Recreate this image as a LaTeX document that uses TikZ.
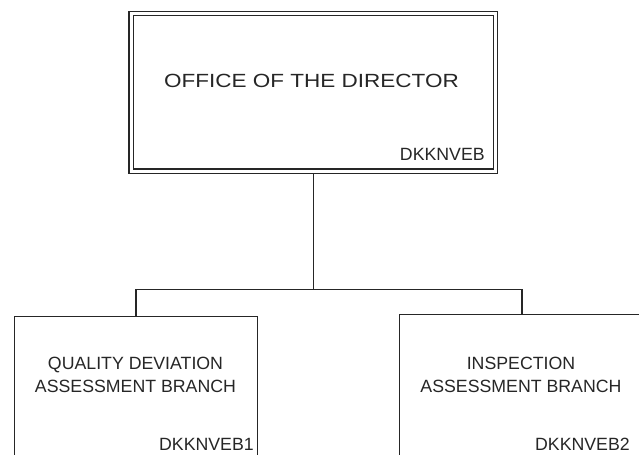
\documentclass[tikz,border=0pt]{standalone}
\usepackage{fontspec}
\setmainfont{Liberation Sans}
\begin{document}
\begin{tikzpicture}[x=0.75pt,y=-0.75pt,
  boxline/.style={draw=black!85, line width=0.8pt, fill=white},
  labeltext/.style={inner sep=0pt, text=black!85, font=\fontsize{13.3pt}{17pt}\selectfont},
  titletext/.style={inner sep=0pt, text=black!85, font=\fontsize{14.3pt}{17pt}\selectfont},
  link/.style={draw=black!85, line width=0.9pt}]
\useasboundingbox (0,0) rectangle (639,454);
\clip (0,0) rectangle (639,454);
% boxes
\node[boxline, double=white, double distance=2.25pt, outer sep=1.9pt,
      minimum width=364.5*0.75pt, minimum height=157.5*0.75pt, inner sep=0pt]
      (dir) at (313.25,92.25) {};
\node[boxline, minimum width=243*0.75pt, minimum height=160*0.75pt, inner sep=0pt, anchor=north west]
      (qda) at (14,316) {};
\node[boxline, minimum width=260*0.75pt, minimum height=160*0.75pt, inner sep=0pt, anchor=north west]
      (iab) at (399,314) {};
% texts
\node[titletext, anchor=base] (dirt) at (311.5,87.3) {\scalebox{1.18}[1]{OFFICE OF THE DIRECTOR}};
\node[labeltext, anchor=base east] (dirc) at (485,160) {DKKNVEB};
\node[labeltext, align=center, anchor=north] (qdat) at (135.5,357.3) {QUALITY DEVIATION\\ASSESSMENT BRANCH};
\node[labeltext, anchor=base east] (qdac) at (254,450.7) {DKKNVEB1};
\node[labeltext, align=center, anchor=north] (iabt) at (521,357) {INSPECTION\\ASSESSMENT BRANCH};
\node[labeltext, anchor=base east] (iabc) at (630,450.7) {DKKNVEB2};
% connectors
\coordinate (j) at (313.25,289.3);
\draw[link] (dir.south) -- (j);
\draw[link] (qda.north) |- (j) -| ([xshift=-7.5*0.75pt]iab.north);
\end{tikzpicture}
\end{document}
